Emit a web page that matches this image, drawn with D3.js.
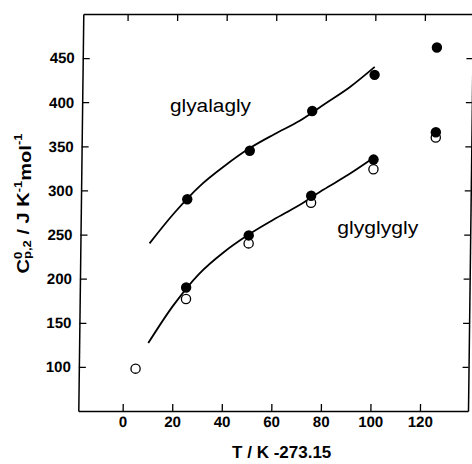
<!DOCTYPE html>
<html>
<head>
<meta charset="utf-8">
<script src="https://cdn.jsdelivr.net/npm/d3@7/dist/d3.min.js"></script>
<style>
  html, body { margin: 0; padding: 0; background: #fff; }
  svg { display: block; }
  text { font-family: "Liberation Sans", Arial, Helvetica, sans-serif; fill: #000; }
</style>
</head>
<body>
<svg id="chart" width="472" height="464"></svg>
<script>
// ---- data ----
const tempsFilled = [25, 50, 75, 100, 125];
const glyalaglyFilled = [290, 345, 390, 431, 462];
const glyglyglyFilled = [190, 249, 294, 335, 366];

const tempsOpen = [5, 25, 50, 75, 100, 125];
const glyglyglyOpen = [98, 177, 240, 286, 324, 360];

const fitTemps = [10, 20, 30, 40, 50, 60, 70, 80, 90, 100];
const glyalaglyFit = [240, 275, 305, 328, 348, 364, 379, 398, 417, 440];
const glyglyglyFit = [127, 170, 205, 230, 250, 267, 283, 301, 318, 337];

const xTicks = [0, 20, 40, 60, 80, 100, 120];
const yTicks = [100, 150, 200, 250, 300, 350, 400, 450];

const xDomain = [-17.9, 139.4];
const yDomain = [50, 500];

// ---- layout ----
const plotLeft = 78.3, plotRight = 468, plotTop = 14, plotBottom = 411;
const svg = d3.select("#chart");

const x = d3.scaleLinear().domain(xDomain).range([plotLeft, plotRight]);
const y = d3.scaleLinear().domain(yDomain).range([plotBottom, plotTop]);

// slight skew of the scanned original
const skewDeg = Math.atan(-5 / (plotBottom - plotTop)) * 180 / Math.PI;
const g = svg.append("g")
  .attr("transform", `translate(0,${plotBottom}) skewX(${skewDeg}) translate(0,${-plotBottom})`);

const tickFont = 15;

function styleAxis(sel) {
  sel.selectAll("path.domain").attr("stroke", "#000").attr("stroke-width", 1.5).attr("fill", "none");
  sel.selectAll(".tick line").attr("stroke", "#000").attr("stroke-width", 1.3);
  sel.selectAll(".tick text")
    .attr("font-family", '"Liberation Sans", Arial, sans-serif')
    .attr("font-size", tickFont).attr("font-weight", "bold").attr("fill", "#000");
}

g.append("g").attr("transform", `translate(0,${plotBottom})`)
  .call(d3.axisBottom(x).tickValues(xTicks).tickSizeInner(-7).tickSizeOuter(0).tickPadding(5))
  .call(styleAxis);
g.append("g").attr("transform", `translate(0,${plotTop})`)
  .call(d3.axisTop(x).tickValues(xTicks).tickSizeInner(-7).tickSizeOuter(0).tickFormat(""))
  .call(styleAxis);
g.append("g").attr("transform", `translate(${plotLeft},0)`)
  .call(d3.axisLeft(y).tickValues(yTicks).tickSizeInner(-7).tickSizeOuter(0).tickPadding(8))
  .call(styleAxis);
g.append("g").attr("transform", `translate(${plotRight},0)`)
  .call(d3.axisRight(y).tickValues(yTicks).tickSizeInner(-6).tickSizeOuter(0).tickFormat(""))
  .call(styleAxis);

// fitted curves
const line = d3.line().x(d => x(d[0])).y(d => y(d[1])).curve(d3.curveCatmullRom.alpha(0.5));
[glyalaglyFit, glyglyglyFit].forEach(vals => {
  g.append("path")
    .datum(fitTemps.map((t, i) => [t, vals[i]]))
    .attr("fill", "none").attr("stroke", "#000").attr("stroke-width", 1.8)
    .attr("d", line);
});

// open circles (drawn first, filled on top)
g.selectAll("circle.open")
  .data(tempsOpen.map((t, i) => [t, glyglyglyOpen[i]]))
  .join("circle").attr("class", "open")
  .attr("cx", d => x(d[0])).attr("cy", d => y(d[1])).attr("r", 4.6)
  .attr("fill", "#fff").attr("stroke", "#000").attr("stroke-width", 1.3);

[glyalaglyFilled, glyglyglyFilled].forEach((vals, k) => {
  g.selectAll("circle.filled" + k)
    .data(tempsFilled.map((t, i) => [t, vals[i]]))
    .join("circle").attr("class", "filled" + k)
    .attr("cx", d => x(d[0])).attr("cy", d => y(d[1])).attr("r", 5.2)
    .attr("fill", "#000");
});

// series labels
svg.append("text").attr("x", 170).attr("y", 112.3)
  .attr("font-size", 18).attr("textLength", 81).attr("lengthAdjust", "spacingAndGlyphs")
  .text("glyalagly");
svg.append("text").attr("x", 337.3).attr("y", 234.3)
  .attr("font-size", 18).attr("textLength", 81).attr("lengthAdjust", "spacingAndGlyphs")
  .text("glyglygly");

// x-axis title
svg.append("text").attr("x", 281.7).attr("y", 458)
  .attr("text-anchor", "middle").attr("font-size", 17).attr("font-weight", "bold")
  .text("T / K -273.15");

// y-axis title
const yt = svg.append("g").attr("transform", "translate(28.5,203.5) rotate(-90) scale(1.18,1)")
  .append("text").attr("text-anchor", "middle").attr("font-size", 17).attr("font-weight", "bold");
yt.append("tspan").text("C");
yt.append("tspan").attr("font-size", 11).attr("dy", -6.5).text("0");
yt.append("tspan").attr("font-size", 11).attr("dx", -6.1).attr("dy", 9).text("p,2");
yt.append("tspan").attr("dy", -2.5).text(" / J K");
yt.append("tspan").attr("font-size", 11).attr("dy", -7).text("-1");
yt.append("tspan").attr("dy", 9).text("mol");
yt.append("tspan").attr("font-size", 11).attr("dy", -9).text("-1");
</script>
</body>
</html>
